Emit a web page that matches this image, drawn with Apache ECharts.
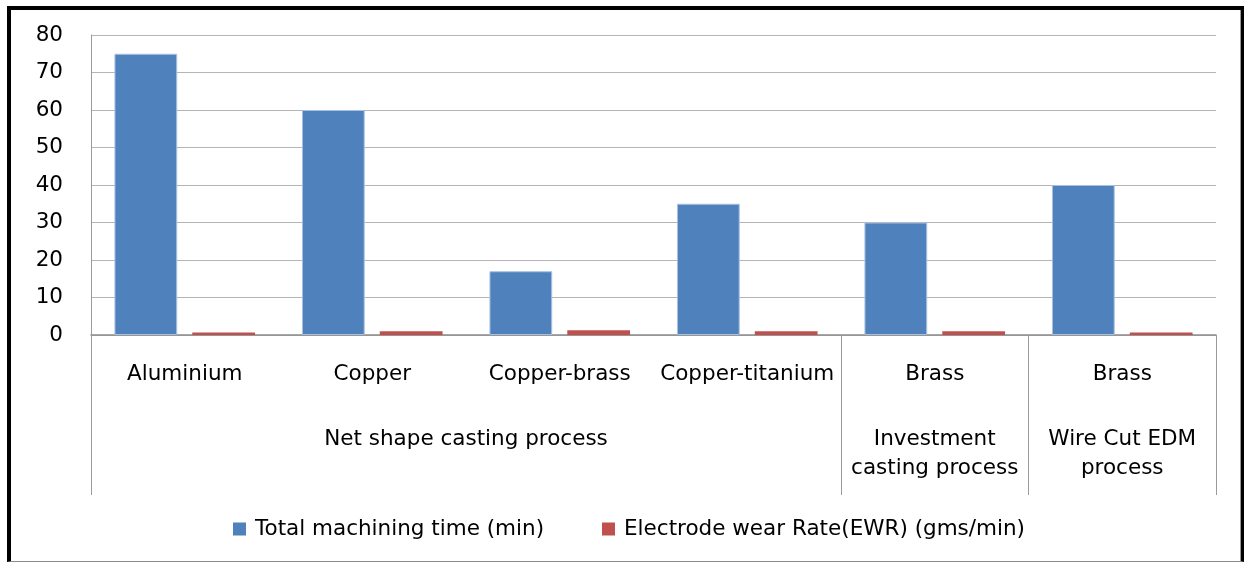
<!DOCTYPE html>
<html>
<head>
<meta charset="utf-8">
<script src="https://cdn.jsdelivr.net/npm/echarts@6/dist/echarts.min.js"></script>
<style>
  html, body { margin: 0; padding: 0; background: #fff; }
  #wrap { position: relative; width: 1245px; height: 563px; overflow: hidden; }
  #chart { position: absolute; left: 0; top: 0; width: 1245px; height: 563px; }
  #frame {
    position: absolute; left: 7px; top: 6px; width: 1230px; height: 551px;
    border-left: 4px solid #000; border-top: 4px solid #000;
    border-right: 3px solid #000; border-bottom: 1px solid #8a8a8a;
    box-shadow: inset -1px 0 0 #9a9a9a;
    pointer-events: none;
  }
</style>
</head>
<body>
<div id="wrap">
  <div id="chart"></div>
  <div id="frame"></div>
</div>
<script>
// Electrode materials (inner category level)
const materials = ['Aluminium', 'Copper', 'Copper-brass', 'Copper-titanium', 'Brass', 'Brass'];
// Process groups (outer category level): name and how many materials each covers
const processNames = ['Net shape casting process', 'Investment\ncasting process', 'Wire Cut EDM\nprocess'];
const processSpans = [4, 1, 1];

const seriesNames = ['Total machining time (min)', 'Electrode wear Rate(EWR) (gms/min)'];
const machiningTime = [75, 60, 17, 35, 30, 40];
const wearRate = [0.7, 1.0, 1.3, 1.0, 1.0, 0.7];

const yTicks = { min: 0, max: 80, interval: 10 };

// Group boundaries and centres on a 0..N scale matching the category bands
const groupEdges = [0];
processSpans.forEach(s => groupEdges.push(groupEdges[groupEdges.length - 1] + s));
const groupCentres = processSpans.map((s, i) => groupEdges[i] + s / 2);

const FONT = 'DejaVu Sans';
const txt = { fontFamily: FONT, fontSize: 21.5, color: '#000' };
const lineGray = '#9a9a9a';

const chart = echarts.init(document.getElementById('chart'), null, { renderer: 'canvas' });
chart.setOption({
  animation: false,
  backgroundColor: '#fff',
  textStyle: { fontFamily: FONT },
  grid: { left: 91, right: 29, top: 35, bottom: 228, containLabel: false },
  legend: {
    data: seriesNames,
    left: 233, top: 518, padding: 0,
    itemWidth: 13, itemHeight: 13, itemGap: 58,
    icon: 'rect',
    itemStyle: { borderWidth: 0 },
    textStyle: Object.assign({}, txt, { padding: [0, 0, 0, 4] })
  },
  xAxis: [
    {
      type: 'category',
      data: materials,
      position: 'bottom',
      axisLine: { show: true, lineStyle: { color: '#8c8c8c', width: 1.5 } },
      axisTick: { show: false },
      axisLabel: Object.assign({}, txt, { margin: 28, interval: 0 }),
      splitLine: { show: false }
    },
    {
      type: 'value',
      position: 'bottom',
      min: 0, max: materials.length,
      axisLine: { show: false },
      splitLine: { show: false },
      axisTick: {
        show: true, inside: false, length: 160,
        customValues: groupEdges,
        lineStyle: { color: lineGray, width: 1 }
      },
      axisLabel: Object.assign({}, txt, {
        margin: 90, lineHeight: 29, align: 'center',
        customValues: groupCentres,
        formatter: v => {
          const i = groupCentres.findIndex(c => Math.abs(c - v) < 1e-6);
          return i >= 0 ? processNames[i] : '';
        }
      })
    }
  ],
  yAxis: {
    type: 'value',
    min: yTicks.min, max: yTicks.max, interval: yTicks.interval,
    axisLine: { show: true, lineStyle: { color: lineGray } },
    axisTick: { show: false },
    axisLabel: Object.assign({}, txt, { margin: 28 }),
    splitLine: { show: true, lineStyle: { color: '#b5b5b5', width: 1.2 } }
  },
  series: [
    {
      name: seriesNames[0], type: 'bar', xAxisIndex: 0,
      data: machiningTime,
      barGap: '24%', barCategoryGap: '25%',
      itemStyle: { color: '#4F81BD', borderColor: '#a9c1e0', borderWidth: 1 }
    },
    {
      name: seriesNames[1], type: 'bar', xAxisIndex: 0,
      data: wearRate,
      barGap: '24%', barCategoryGap: '25%',
      itemStyle: { color: '#C0504D', borderWidth: 0 }
    }
  ]
});
</script>
</body>
</html>
